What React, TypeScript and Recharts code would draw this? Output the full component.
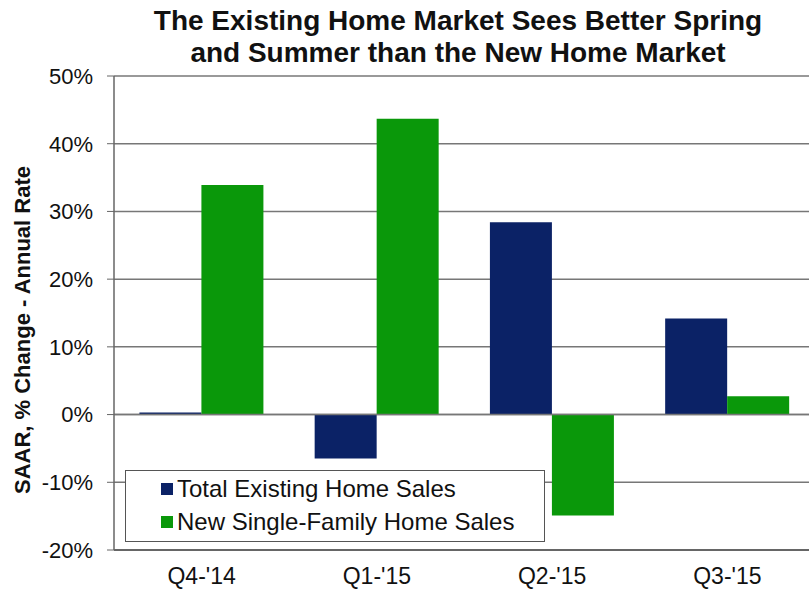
import { BarChart, Bar, XAxis, YAxis, CartesianGrid, ReferenceLine } from "recharts";

const quarters = ["Q4-'14", "Q1-'15", "Q2-'15", "Q3-'15"];
const existingSales = [0.3, -6.5, 28.4, 14.2];
const newSingleFamily = [33.9, 43.7, -14.9, 2.7];
const yTicks = [-20, -10, 0, 10, 20, 30, 40, 50];

const seriesInfo = [
  { key: "existing", label: "Total Existing Home Sales", color: "#0b2266" },
  { key: "newHomes", label: "New Single-Family Home Sales", color: "#0a980a" },
];

const data = quarters.map((q, i) => ({
  quarter: q,
  existing: existingSales[i],
  newHomes: newSingleFamily[i],
}));

const font = "'Liberation Sans', Arial, sans-serif";

function LegendBox() {
  return (
    <div
      style={{
        position: "absolute",
        left: 125,
        top: 470,
        border: "1px solid #555",
        background: "#fff",
        width: 420,
        height: 72,
        boxSizing: "border-box",
        padding: "1px 0 0 35px",
        fontFamily: font,
        fontSize: 24,
        color: "#111",
      }}
    >
      {seriesInfo.map((it) => (
        <div key={it.key} style={{ display: "flex", alignItems: "center", height: 33 }}>
          <span style={{ width: 12, height: 12, background: it.color, marginRight: 4 }} />
          {it.label}
        </div>
      ))}
    </div>
  );
}

const AxisTitle = () => (
  <text
    x={30}
    y={330}
    transform="rotate(-90, 30, 330)"
    textAnchor="middle"
    fontFamily={font}
    fontWeight="bold"
    fontSize={22}
    fill="#111"
  >
    SAAR, % Change - Annual Rate
  </text>
);

export default function App() {
  return (
    <div style={{ position: "absolute", left: 0, top: 0, width: 809, height: 590, overflow: "hidden", background: "#fff" }}>
      <div
        style={{
          position: "absolute",
          left: 0,
          top: 5,
          width: 916,
          textAlign: "center",
          fontFamily: font,
          fontWeight: "bold",
          fontSize: 28,
          lineHeight: "32px",
          color: "#111",
        }}
      >
        The Existing Home Market Sees Better Spring
        <br />
        and Summer than the New Home Market
      </div>
      <BarChart
        width={815}
        height={590}
        data={data}
        margin={{ top: 76, right: 0, left: 0, bottom: 0 }}
        barCategoryGap="14.5%"
        barGap={0}
        style={{ position: "absolute", left: 0, top: 0 }}
      >
        <CartesianGrid vertical={false} stroke="#777" strokeWidth={1.5} />
        <XAxis
          dataKey="quarter"
          height={40}
          axisLine={{ stroke: "#666", strokeWidth: 2 }}
          tickLine={false}
          tick={{ fill: "#111", fontSize: 23, fontFamily: font }}
          tickMargin={12}
        />
        <YAxis
          width={114}
          domain={[-20, 50]}
          ticks={yTicks}
          interval={0}
          tickFormatter={(v: number) => `${v}%`}
          axisLine={{ stroke: "#666", strokeWidth: 1.5 }}
          tickLine={{ stroke: "#666" }}
          tickSize={7}
          tickMargin={14}
          tick={{ fill: "#111", fontSize: 22, fontFamily: font }}
          label={<AxisTitle />}
        />
        <ReferenceLine y={0} stroke="#777" strokeWidth={1.5} />
        {seriesInfo.map((s) => (
          <Bar key={s.key} dataKey={s.key} name={s.label} fill={s.color} isAnimationActive={false} />
        ))}
      </BarChart>
      <LegendBox />
    </div>
  );
}
